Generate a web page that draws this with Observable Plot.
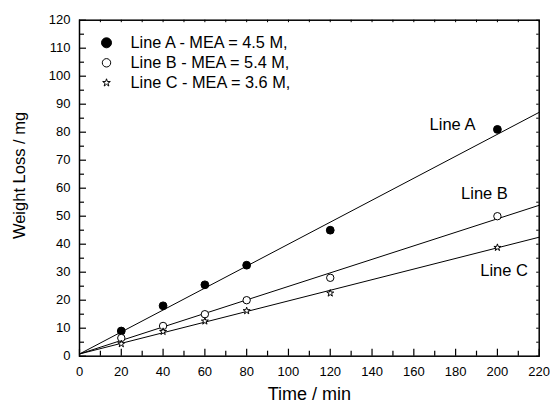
<!DOCTYPE html>
<html>
<head>
<meta charset="utf-8">
<script src="https://cdn.jsdelivr.net/npm/d3@7"></script>
<script src="https://cdn.jsdelivr.net/npm/@observablehq/plot@0.6"></script>
<style>
  html, body { margin: 0; padding: 0; background: white; }
  #chart svg { display: block; }
</style>
</head>
<body>
<div id="chart"></div>
<script>
// ---- Data ----
const times = [20, 40, 60, 80, 120, 200];
const lineA = [9, 18, 25.5, 32.5, 45, 81];
const lineB = [6.5, 10.8, 15, 20, 28, 50];
const lineC = [4.4, 8.8, 12.5, 16.2, 22.5, 38.8];
const fitX = [0, 220];
const fitA = [0.8, 87.1];
const fitB = [0.8, 53.9];
const fitC = [0.8, 42.5];
const seriesNames = ["Line A", "Line B", "Line C"];
const legendLabels = ["Line A - MEA = 4.5 M,", "Line B - MEA = 5.4 M,", "Line C - MEA = 3.6 M,"];
const lineLabelPos = [[178.5, 82.8], [193.8, 58.1], [203.2, 30.5]];
const xMajor = d3.range(0, 221, 20);
const xMinor = d3.range(10, 220, 20);
const xTop = d3.range(0, 221, 10);
const yMajor = d3.range(0, 121, 10);
const yMinor = d3.range(5, 120, 10);
const yRight = d3.range(0, 121, 5);
const xTitle = "Time / min";
const yTitle = "Weight Loss / mg";

const pts = (vals) => times.map((t, i) => ({x: t, y: vals[i]}));
const fit = (vals) => fitX.map((t, i) => ({x: t, y: vals[i]}));

const W = 550, H = 403, mL = 79, mR = 11.3, mT = 19.7, mB = 47.3;
const plotW = W - mL - mR, plotH = H - mT - mB;

const font = "Liberation Sans, Arial, Helvetica, sans-serif";
const styles = [
  {symbol: "circle", fill: "black", stroke: "black", r: 3.9, lr: 5},
  {symbol: "circle", fill: "white", stroke: "black", r: 3.7, lr: 4.2},
  {symbol: "star", fill: "white", stroke: "black", r: 2.2, lr: 2.4}
];

const legendMarks = [];
legendLabels.forEach((lab, i) => {
  const s = styles[i];
  legendMarks.push(Plot.dot([lab], {frameAnchor: "top-left", dx: 27, dy: 22.6 + 20 * i,
    symbol: s.symbol, r: s.lr, fill: s.fill, stroke: s.stroke, strokeWidth: 1}));
  legendMarks.push(Plot.text([lab], {frameAnchor: "top-left", dx: 51, dy: 22.6 + 20 * i,
    text: d => d, textAnchor: "start", lineAnchor: "middle", fontSize: 16.3, fill: "black"}));
});

// inward tick helpers
const ticksBottom = (vals, len) => Plot.tickX(vals, {x: d => d, insetTop: plotH - len, stroke: "black", strokeWidth: 1.2});
const ticksTop = (vals, len) => Plot.tickX(vals, {x: d => d, insetBottom: plotH - len, stroke: "black", strokeWidth: 1});
const ticksLeft = (vals, len) => Plot.tickY(vals, {y: d => d, insetRight: plotW - len, stroke: "black", strokeWidth: 1.2});
const ticksRight = (vals, len) => Plot.tickY(vals, {y: d => d, insetLeft: plotW - len, stroke: "black", strokeWidth: 1});

const chart = Plot.plot({
  width: W,
  height: H,
  marginLeft: mL,
  marginRight: mR,
  marginTop: mT,
  marginBottom: mB,
  style: {fontFamily: font, color: "black", background: "white", overflow: "visible"},
  x: {domain: [0, 220]},
  y: {domain: [0, 120]},
  marks: [
    // ticks pointing inward
    ticksLeft(yMajor, 7), ticksLeft(yMinor, 5), ticksRight(yRight, 2.5),
    ticksBottom(xMajor, 7), ticksBottom(xMinor, 5), ticksTop(xTop, 2.5),
    // tick labels
    Plot.axisY({ticks: yMajor, tickSize: 0, tickPadding: 9, fontSize: 13, label: null}),
    Plot.axisX({ticks: xMajor, tickSize: 0, tickPadding: 10.5, fontSize: 13, label: null}),
    Plot.frame({stroke: "black", strokeWidth: 1.5}),
    // fitted lines
    Plot.line(fit(fitA), {x: "x", y: "y", stroke: "black", strokeWidth: 1}),
    Plot.line(fit(fitB), {x: "x", y: "y", stroke: "black", strokeWidth: 1}),
    Plot.line(fit(fitC), {x: "x", y: "y", stroke: "black", strokeWidth: 1}),
    // data points
    ...[lineA, lineB, lineC].map((vals, i) => Plot.dot(pts(vals), {x: "x", y: "y",
      symbol: styles[i].symbol, r: styles[i].r, fill: styles[i].fill, stroke: styles[i].stroke, strokeWidth: 1})),
    // line labels
    Plot.text(seriesNames, {x: (d, i) => lineLabelPos[i][0], y: (d, i) => lineLabelPos[i][1],
      text: d => d, fontSize: 16.5, fill: "black", lineAnchor: "middle"}),
    // legend
    ...legendMarks,
    // axis titles
    Plot.text([xTitle], {frameAnchor: "bottom", dy: 38.5, text: d => d, fontSize: 18, fill: "black", textAnchor: "middle", lineAnchor: "middle"}),
    Plot.text([yTitle], {frameAnchor: "left", dx: -60, dy: -12.7, rotate: -90, text: d => d, fontSize: 16.5, fill: "black", textAnchor: "middle", lineAnchor: "middle"})
  ]
});
document.getElementById("chart").appendChild(chart);
</script>
</body>
</html>
